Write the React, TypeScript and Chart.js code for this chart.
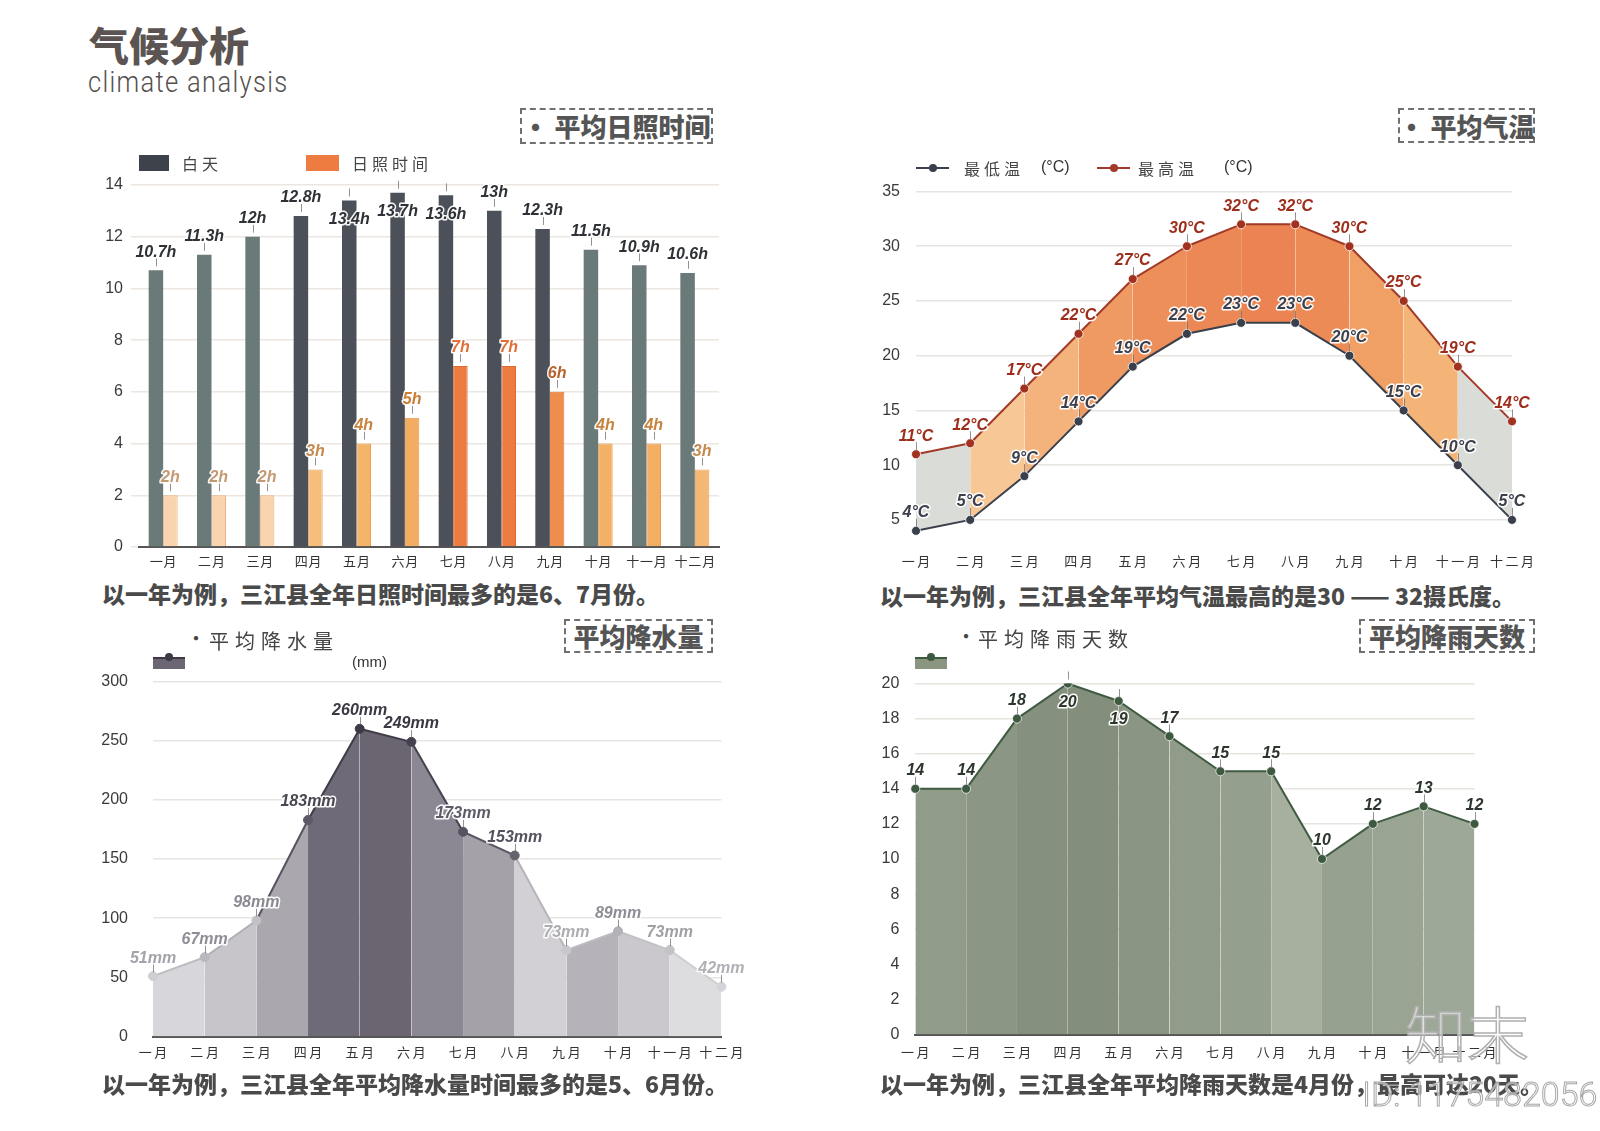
import React, { useEffect, useRef } from 'react';
import { Chart, registerables } from 'chart.js';

Chart.register(...registerables);

// ---------------- data ----------------
const months = ['一月', '二月', '三月', '四月', '五月', '六月', '七月', '八月', '九月', '十月', '十一月', '十二月'];
const daylightHours = [10.7, 11.3, 12, 12.8, 13.4, 13.7, 13.6, 13, 12.3, 11.5, 10.9, 10.6];
const sunshineHours = [2, 2, 2, 3, 4, 5, 7, 7, 6, 4, 4, 3];
const lowTemps = [4, 5, 9, 14, 19, 22, 23, 23, 20, 15, 10, 5];
const highTemps = [11, 12, 17, 22, 27, 30, 32, 32, 30, 25, 19, 14];
const precipitation = [51, 67, 98, 183, 260, 249, 173, 153, 73, 89, 73, 42];
const rainyDays = [14, 14, 18, 20, 19, 17, 15, 15, 10, 12, 13, 12];

const sunAxis = { min: 0, max: 14, step: 2 };
const tempAxis = { min: 3, max: 35, step: 5 };
const rainAxis = { min: 0, max: 300, step: 50 };
const daysAxis = { min: 0, max: 20, step: 2 };

// ---------------- styles ----------------
const CJK = '"Noto Sans CJK SC", "Noto Sans", sans-serif';
const NUM = '"Liberation Sans", Arial, sans-serif';
const tickFont = { family: NUM, size: 16 };
const monthFont = { family: CJK, size: 13 };
const spaced = (s: string, gap: string) => s.split('').join(gap);

const dayColors = ['#6a7a79', '#6a7a79', '#6a7a79', '#4c5159', '#4c5159', '#4c5159', '#4c5159', '#4c5159', '#4c5159', '#6a7a79', '#6a7a79', '#6a7a79'];
const sunColors = ['#f9d4af', '#f9d4af', '#f9d4af', '#f6bd7c', '#f4b469', '#f3ad62', '#ec7b40', '#ec7b40', '#ef8e4c', '#f4b166', '#f3ae63', '#f4b874'];
const sunBorders = ['#eeb07c', '#eeb07c', '#eeb07c', '#e9a25c', '#e99e50', '#e8984a', '#de6a32', '#de6a32', '#e27a3a', '#e99c4e', '#e99a4c', '#e9a45c'];
const sunLabelColors = ['#c49a72', '#c49a72', '#c49a72', '#c48a4e', '#c8843e', '#cc7c34', '#e2703a', '#e2703a', '#b8632e', '#c8843e', '#c8843e', '#c48a4e'];

const tempFill = ['#d9dcd7', '#f7c796', '#f4b37c', '#ef9a63', '#ed8f5a', '#ec8856', '#eb8452', '#ed8b57', '#f0a064', '#f4b478', '#d9dcd7'];

const rainFill = ['#d7d6da', '#c7c5ca', '#aaa7af', '#6f6a77', '#6a6571', '#8c8893', '#a4a1a9', '#d2d0d4', '#b5b3b9', '#cac8cd', '#dddcdf'];
const rainLine = ['#bdbcc1', '#b0aeb4', '#57525f', '#3f3b47', '#3f3b47', '#45414e', '#5a5663', '#b5b3b9', '#bdbbc1', '#c3c1c6', '#cfcdd2'];
const rainPoint = ['#cfcfd3', '#b9b9bd', '#c2c1c6', '#5e5966', '#3d3a45', '#45414e', '#56525f', '#66636f', '#c8c8cc', '#b3b2b8', '#c3c3c7', '#d4d4d8'];
const rainLabel = ['#a3a3ab', '#8e8e96', '#8a8a92', '#4a4652', '#3b3843', '#3b3843', '#5f5b68', '#55515e', '#acacb2', '#8e8e96', '#a0a0a6', '#b0b0b6'];

const daysFill = ['#909c89', '#8b9784', '#85907f', '#838e7d', '#8a9584', '#909b8a', '#949f8e', '#a7b09f', '#96a18f', '#99a492', '#9ea899'];

// ---------------- label plugin ----------------
type LabelSpec = { ds: number; text: (v: number) => string; color: (i: number) => string };
function valueLabels(specs: LabelSpec[]) {
  return {
    id: 'valueLabels',
    afterDatasetsDraw(chart: any) {
      const { ctx, chartArea } = chart;
      for (const spec of specs) {
        const meta = chart.getDatasetMeta(spec.ds);
        const values = chart.data.datasets[spec.ds].data as number[];
        meta.data.forEach((el: any, i: number) => {
          const x = el.x;
          const y = el.y;
          const below = y - 28 < chartArea.top - 5;
          const ly = below ? y + 19 : y - 18;
          ctx.save();
          ctx.strokeStyle = 'rgba(110,110,110,0.75)';
          ctx.lineWidth = 1;
          ctx.beginPath();
          ctx.moveTo(Math.round(x) + 0.5, y - 4);
          ctx.lineTo(Math.round(x) + 0.5, y - 12);
          ctx.stroke();
          ctx.font = `italic bold 16px ${NUM}`;
          ctx.textAlign = 'center';
          ctx.textBaseline = 'middle';
          ctx.lineJoin = 'round';
          ctx.lineWidth = 3;
          ctx.strokeStyle = 'rgba(255,255,255,0.95)';
          const t = spec.text(values[i]);
          ctx.strokeText(t, x, ly);
          ctx.fillStyle = spec.color(i);
          ctx.fillText(t, x, ly);
          ctx.restore();
        });
      }
    },
  };
}

function filterTicks(step: number) {
  return (axis: any) => {
    axis.ticks = axis.ticks.filter((t: any) => Math.abs(t.value % step) < 1e-9);
  };
}

function fixY(width: number) {
  return (s: any) => {
    s.width = width;
    s.paddingTop = 0;
    s.paddingBottom = 0;
  };
}

function xTicks(padding: number, gap = '\u2009') {
  return { font: monthFont, color: '#333', padding, autoSkip: false, maxRotation: 0, callback: (_: any, i: number) => spaced(months[i], gap) };
}

// ---------------- chart configs ----------------
function sunshineConfig(): any {
  return {
    type: 'bar',
    data: {
      labels: months,
      datasets: [
        { data: daylightHours, backgroundColor: dayColors, borderWidth: 0, categoryPercentage: 0.6, barPercentage: 1 },
        { data: sunshineHours, backgroundColor: sunColors, borderColor: sunBorders, borderWidth: 1, categoryPercentage: 0.6, barPercentage: 1 },
      ],
    },
    options: {
      animation: false,
      responsive: false,
      layout: { padding: { top: 15, right: 11, left: 0, bottom: 0 } },
      plugins: { legend: { display: false }, tooltip: { enabled: false } },
      scales: {
        x: {
          grid: { display: false, drawTicks: false },
          border: { display: true, color: '#555', width: 2 },
          ticks: xTicks(6, '\u200a'),
          afterFit: (s: any) => { s.height = 23; },
        },
        y: {
          min: sunAxis.min, max: sunAxis.max,
          ticks: { stepSize: sunAxis.step, font: tickFont, color: '#3a3a3a', padding: 8 },
          grid: { color: '#ebe6e0', lineWidth: 1.5, drawTicks: true, tickLength: 8 },
          border: { display: false },
          afterFit: fixY(49),
        },
      },
    },
    plugins: [
      valueLabels([
        { ds: 0, text: (v) => `${v}h`, color: () => '#2e3136' },
        { ds: 1, text: (v) => `${v}h`, color: (i) => sunLabelColors[i] },
      ]),
    ],
  };
}

function tempConfig(): any {
  return {
    type: 'line',
    data: {
      labels: months,
      datasets: [
        {
          data: lowTemps, borderColor: '#3a3f4c', borderWidth: 2, fill: false,
          pointRadius: 4.5, pointBackgroundColor: '#3a3f4c', pointBorderColor: 'rgba(255,255,255,0.8)', pointBorderWidth: 1,
        },
        {
          data: highTemps, borderColor: '#a23a28', borderWidth: 2, fill: '-1',
          backgroundColor: '#ef9a63',
          segment: { backgroundColor: (c: any) => tempFill[c.p0DataIndex] },
          pointRadius: 4.5, pointBackgroundColor: '#a0321f', pointBorderColor: 'rgba(255,255,255,0.8)', pointBorderWidth: 1,
        },
      ],
    },
    options: {
      animation: false,
      responsive: false,
      layout: { padding: { top: 16.5, right: 38, left: 0, bottom: 0 } },
      plugins: { legend: { display: false }, tooltip: { enabled: false } },
      scales: {
        x: {
          offset: false,
          grid: { display: false, drawTicks: false },
          border: { display: false },
          ticks: xTicks(11),
          afterFit: (s: any) => { s.height = 33.2; },
        },
        y: {
          min: tempAxis.min, max: tempAxis.max,
          ticks: { stepSize: tempAxis.step, font: tickFont, color: '#3a3a3a', padding: 16 },
          afterBuildTicks: filterTicks(tempAxis.step),
          grid: { color: '#e7e3df', lineWidth: 1.5, drawTicks: false },
          border: { display: false },
          afterFit: fixY(66),
        },
      },
    },
    plugins: [
      valueLabels([
        { ds: 1, text: (v) => `${v}°C`, color: () => '#9e2e1c' },
        { ds: 0, text: (v) => `${v}°C`, color: () => '#3b404c' },
      ]),
    ],
  };
}

function rainConfig(): any {
  return {
    type: 'line',
    data: {
      labels: months,
      datasets: [
        {
          data: precipitation, borderColor: '#4a4652', borderWidth: 2, fill: 'origin',
          backgroundColor: '#8c8893',
          segment: {
            backgroundColor: (c: any) => rainFill[c.p0DataIndex],
            borderColor: (c: any) => rainLine[c.p0DataIndex],
          },
          pointRadius: 4.5, pointBackgroundColor: rainPoint, pointBorderColor: rainPoint, pointBorderWidth: 1,
        },
      ],
    },
    options: {
      animation: false,
      responsive: false,
      layout: { padding: { top: 21.5, right: 38.6, left: 0, bottom: 0 } },
      plugins: { legend: { display: false }, tooltip: { enabled: false } },
      scales: {
        x: {
          offset: false,
          grid: { display: false, drawTicks: false },
          border: { display: true, color: '#555', width: 2 },
          ticks: xTicks(8),
          afterFit: (s: any) => { s.height = 33.5; },
        },
        y: {
          min: rainAxis.min, max: rainAxis.max,
          ticks: { stepSize: rainAxis.step, font: tickFont, color: '#3a3a3a', padding: 25 },
          grid: { color: '#e8e5e1', lineWidth: 1.5, drawTicks: false },
          border: { display: false },
          afterFit: fixY(63),
        },
      },
    },
    plugins: [valueLabels([{ ds: 0, text: (v) => `${v}mm`, color: (i) => rainLabel[i] }])],
  };
}

function daysConfig(): any {
  return {
    type: 'line',
    data: {
      labels: months,
      datasets: [
        {
          data: rainyDays, borderColor: '#3e5b41', borderWidth: 2, fill: 'origin',
          backgroundColor: '#8f9a88',
          segment: { backgroundColor: (c: any) => daysFill[c.p0DataIndex] },
          pointRadius: 4.5, pointBackgroundColor: '#3d5a40', pointBorderColor: 'rgba(255,255,255,0.7)', pointBorderWidth: 1,
        },
      ],
    },
    options: {
      animation: false,
      responsive: false,
      layout: { padding: { top: 23.5, right: 75.5, left: 0, bottom: 0 } },
      plugins: { legend: { display: false }, tooltip: { enabled: false } },
      scales: {
        x: {
          offset: false,
          grid: { display: false, drawTicks: false },
          border: { display: true, color: '#555', width: 2 },
          ticks: xTicks(10),
          afterFit: (s: any) => { s.height = 35.5; },
        },
        y: {
          min: daysAxis.min, max: daysAxis.max,
          ticks: { stepSize: daysAxis.step, font: tickFont, color: '#3a3a3a', padding: 16 },
          grid: { color: '#e6e4de', lineWidth: 1.5, drawTicks: false },
          border: { display: false },
          afterFit: fixY(65.3),
        },
      },
    },
    plugins: [valueLabels([{ ds: 0, text: (v) => `${v}`, color: () => '#2c362d' }])],
  };
}

// ---------------- components ----------------
function ChartBox({ make, left, top, width, height }: { make: () => any; left: number; top: number; width: number; height: number }) {
  const ref = useRef<HTMLCanvasElement>(null);
  useEffect(() => {
    const chart = new Chart(ref.current as HTMLCanvasElement, make());
    return () => chart.destroy();
  }, []);
  return <canvas ref={ref} width={width} height={height} style={{ position: 'absolute', left, top, width, height }} />;
}

function Txt({ left, cy, size, lh, children, style }: { left: number; cy: number; size: number; lh: number; children: any; style?: any }) {
  return (
    <div style={{ position: 'absolute', left, top: cy - lh / 2, fontSize: size, lineHeight: `${lh}px`, whiteSpace: 'nowrap', fontFamily: CJK, ...style }}>
      {children}
    </div>
  );
}

function TitleBox({ left, top, width, height, text }: { left: number; top: number; width: number; height: number; text: string }) {
  return (
    <div
      style={{
        position: 'absolute', left, top, width, height, boxSizing: 'border-box', border: '2px dashed #707070',
        display: 'flex', alignItems: 'center', justifyContent: 'center', fontFamily: CJK, fontWeight: 900,
        fontSize: 26, color: '#555', whiteSpace: 'nowrap', lineHeight: '30px',
      }}
    >
      {text}
    </div>
  );
}

function LineSymbol({ left, cy, color }: { left: number; cy: number; color: string }) {
  return (
    <div style={{ position: 'absolute', left, top: cy - 1, width: 33, height: 2, background: color }}>
      <div style={{ position: 'absolute', left: 12.5, top: -3.5, width: 8, height: 8, borderRadius: 4, background: color }} />
    </div>
  );
}

function AreaSymbol({ left, top, color, dot }: { left: number; top: number; color: string; dot: string }) {
  return (
    <div style={{ position: 'absolute', left, top, width: 32, height: 10, background: color, borderTop: `2px solid ${dot}` }}>
      <div style={{ position: 'absolute', left: 12, top: -6, width: 8, height: 8, borderRadius: 4, background: dot }} />
    </div>
  );
}

export default function App() {
  const legendStyle = { color: '#444', letterSpacing: 4 };
  const captionStyle = { fontWeight: 900, color: '#4a4a4a' };
  return (
    <div style={{ position: 'absolute', left: 0, top: 0, width: 1600, height: 1131, background: '#fff', overflow: 'hidden' }}>
      <ChartBox make={sunshineConfig} left={90} top={170} width={640} height={400} />
      <ChartBox make={tempConfig} left={850} top={175} width={700} height={400} />
      <ChartBox make={rainConfig} left={90} top={660} width={670} height={410} />
      <ChartBox make={daysConfig} left={850} top={660} width={700} height={410} />

      {/* header */}
      <Txt left={89} cy={44} size={40} lh={40} style={{ fontWeight: 900, color: '#5c5452' }}>气候分析</Txt>
      <div style={{ position: 'absolute', left: 88, top: 68, fontFamily: 'Roboto, sans-serif', fontWeight: 300, fontSize: 29, lineHeight: '29px', color: '#55504e', whiteSpace: 'nowrap', transform: 'scaleX(0.88)', transformOrigin: 'left top', letterSpacing: 1.5 }}>
        climate analysis
      </div>

      {/* section titles */}
      <TitleBox left={520} top={108} width={193} height={36} text="· 平均日照时间" />
      <TitleBox left={1398} top={108} width={137} height={35} text="· 平均气温" />
      <TitleBox left={564} top={619} width={149} height={34} text="平均降水量" />
      <TitleBox left={1359} top={619} width={176} height={34} text="平均降雨天数" />

      {/* legend chart 1 */}
      <div style={{ position: 'absolute', left: 139, top: 155, width: 30, height: 16, background: '#3e434b' }} />
      <Txt left={182} cy={163} size={16} lh={20} style={legendStyle}>白天</Txt>
      <div style={{ position: 'absolute', left: 306, top: 155, width: 33, height: 16, background: '#ee7b3f' }} />
      <Txt left={352} cy={163} size={16} lh={20} style={legendStyle}>日照时间</Txt>

      {/* legend chart 2 */}
      <LineSymbol left={916} cy={168} color="#3a3f4c" />
      <Txt left={964} cy={168} size={16} lh={20} style={legendStyle}>最低温</Txt>
      <Txt left={1041} cy={167} size={16} lh={20} style={{ fontFamily: NUM, color: '#333' }}>(°C)</Txt>
      <LineSymbol left={1097} cy={168} color="#a23a28" />
      <Txt left={1138} cy={168} size={16} lh={20} style={legendStyle}>最高温</Txt>
      <Txt left={1224} cy={167} size={16} lh={20} style={{ fontFamily: NUM, color: '#333' }}>(°C)</Txt>

      {/* legend chart 3 */}
      <Txt left={186} cy={638} size={20} lh={24} style={{ color: '#444' }}>·</Txt>
      <Txt left={209} cy={641} size={20} lh={24} style={{ color: '#444', letterSpacing: 6 }}>平均降水量</Txt>
      <AreaSymbol left={153} top={657} color="#6b6574" dot="#3d3a45" />
      <Txt left={352} cy={662} size={15} lh={18} style={{ fontFamily: NUM, color: '#333' }}>(mm)</Txt>

      {/* legend chart 4 */}
      <Txt left={956} cy={636} size={20} lh={24} style={{ color: '#444' }}>·</Txt>
      <Txt left={978} cy={639} size={20} lh={24} style={{ color: '#444', letterSpacing: 6 }}>平均降雨天数</Txt>
      <AreaSymbol left={915} top={657} color="#8a9680" dot="#3d5a40" />

      {/* captions */}
      <Txt left={102} cy={593} size={23} lh={32} style={captionStyle}>以一年为例，三江县全年日照时间最多的是6、7月份。</Txt>
      <Txt left={880} cy={595} size={23} lh={32} style={captionStyle}>以一年为例，三江县全年平均气温最高的是30 —— 32摄氏度。</Txt>
      <Txt left={102} cy={1083} size={23} lh={32} style={captionStyle}>以一年为例，三江县全年平均降水量时间最多的是5、6月份。</Txt>
      <Txt left={880} cy={1083} size={23} lh={32} style={captionStyle}>以一年为例，三江县全年平均降雨天数是4月份，最高可达20天。</Txt>

      {/* watermark marks */}
      <Txt left={1405} cy={1032} size={62} lh={70} style={{ fontWeight: 300, color: 'rgba(255,255,255,0.55)', WebkitTextStroke: '1.5px #b0b0b0' }}>知末</Txt>
      <div style={{ position: 'absolute', left: 1362, top: 1075, fontFamily: 'Roboto, sans-serif', fontWeight: 300, fontSize: 34, lineHeight: '38px', color: 'rgba(255,255,255,0.6)', WebkitTextStroke: '1px #a8a8a8', whiteSpace: 'nowrap' }}>
        ID: 1175482056
      </div>
    </div>
  );
}
